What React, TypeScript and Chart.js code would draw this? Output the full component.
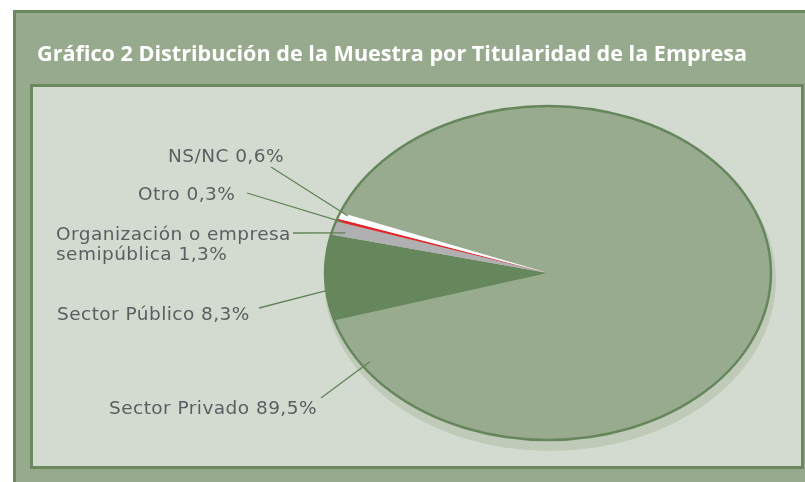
import React, { useEffect, useRef } from "react";
import { Chart, registerables } from "chart.js";

Chart.register(...registerables);

// ---- data ----
const title = "Gráfico 2 Distribución de la Muestra por Titularidad de la Empresa";
const categories = [
  "Sector Privado",
  "Sector Público",
  "Organización o empresa semipública",
  "Otro",
  "NS/NC",
];
const values = [89.5, 8.3, 1.3, 0.3, 0.6];
const valueLabels = ["89,5%", "8,3%", "1,3%", "0,3%", "0,6%"];
const labelLines = [
  ["Sector Privado 89,5%"],
  ["Sector Público 8,3%"],
  ["Organización o empresa", "semipública 1,3%"],
  ["Otro 0,3%"],
  ["NS/NC 0,6%"],
];
const sliceColors = ["#98ab8e", "#66875c", "#b0b0b2", "#e8242b", "#ffffff"];

// ---- layout / style ----
const W = 805;
const H = 482;
const STRETCH = 1.335; // horizontal stretch of the pie (ellipse)
const labelLayout = [
  { x: 109, y: 414, lx: 321, ly: 398, f: 0.947, rf: 0.96 },
  { x: 57, y: 320, lx: 259, ly: 308, f: 0.35, rf: 1.0 },
  { x: 56, y: 240, lx: 293, ly: 233, f: 0.32, rf: 0.94 },
  { x: 138, y: 200, lx: 247, ly: 193, f: 0.3, rf: 0.97 },
  { x: 168, y: 162, lx: 271, ly: 167, f: 0.8, rf: 0.96 },
];

const framePlugin = {
  id: "frame",
  beforeDraw(chart: any) {
    const ctx = chart.ctx as CanvasRenderingContext2D;
    ctx.save();
    // outer frame
    ctx.fillStyle = "#98aa8e";
    ctx.fillRect(13, 10, W, H);
    ctx.strokeStyle = "#6a8a5e";
    ctx.lineWidth = 3;
    ctx.strokeRect(14.5, 11.5, W + 10, H + 10);
    // inner panel
    ctx.fillStyle = "#d3dbd1";
    ctx.fillRect(31, 85, 772, 383);
    ctx.strokeRect(31.5, 85.5, 771, 382);
    // title
    ctx.fillStyle = "#ffffff";
    ctx.font = "bold 21.6px 'Open Sans'";
    ctx.textBaseline = "alphabetic";
    ctx.textAlign = "left";
    ctx.fillText(title, 37, 61);
    ctx.restore();
  },
};

const ellipsePlugin = {
  id: "ellipse",
  beforeDatasetsDraw(chart: any) {
    const ctx = chart.ctx as CanvasRenderingContext2D;
    const arc = chart.getDatasetMeta(0).data[0] as any;
    if (!arc) return;
    const { x, y, outerRadius: R } = arc;
    // shadow
    ctx.save();
    ctx.fillStyle = "#bfcab8";
    ctx.beginPath();
    ctx.ellipse(x + 2, y + 7, R * STRETCH + 3, R + 4, 0, 0, Math.PI * 2);
    ctx.fill();
    ctx.restore();
    ctx.save();
    ctx.translate(x, y);
    ctx.scale(STRETCH, 1);
    ctx.translate(-x, -y);
  },
  afterDatasetsDraw(chart: any) {
    const ctx = chart.ctx as CanvasRenderingContext2D;
    ctx.restore();
    const arcs = chart.getDatasetMeta(0).data as any[];
    if (!arcs.length) return;
    const { x, y, outerRadius: R } = arcs[0];
    ctx.save();
    ctx.strokeStyle = "#66875c";
    ctx.lineWidth = 2.5;
    ctx.beginPath();
    ctx.ellipse(x, y, R * STRETCH, R, 0, 0, Math.PI * 2);
    ctx.stroke();

    // labels + leader lines
    ctx.font = "18.5px 'DejaVu Sans'";
    (ctx as any).letterSpacing = "0.45px";
    ctx.fillStyle = "#5b5e61";
    ctx.textAlign = "left";
    ctx.textBaseline = "alphabetic";
    arcs.forEach((a: any, i: number) => {
      const L = labelLayout[i];
      const ang = a.startAngle + L.f * (a.endAngle - a.startAngle);
      const px = x + Math.cos(ang) * R * L.rf * STRETCH;
      const py = y + Math.sin(ang) * R * L.rf;
      ctx.strokeStyle = "#628356";
      ctx.lineWidth = 1.3;
      ctx.beginPath();
      ctx.moveTo(L.lx, L.ly);
      ctx.lineTo(px, py);
      ctx.stroke();
      labelLines[i].forEach((line, j) => {
        ctx.fillText(line, L.x, L.y + j * 20);
      });
    });
    ctx.restore();
  },
};

export default function App() {
  const ref = useRef<HTMLCanvasElement | null>(null);
  useEffect(() => {
    if (!ref.current) return;
    const chart = new Chart(ref.current, {
      type: "pie",
      data: {
        labels: categories,
        datasets: [
          {
            data: values,
            backgroundColor: sliceColors,
            borderWidth: 0,
            hoverOffset: 0,
          } as any,
        ],
      },
      options: {
        animation: false,
        responsive: false,
        devicePixelRatio: 1,
        events: [],
        rotation: 291.25,
        layout: { padding: { left: 381, right: 90, top: 106, bottom: 42 } },
        plugins: {
          legend: { display: false },
          tooltip: { enabled: false },
          title: { display: false },
        },
      } as any,
      plugins: [framePlugin, ellipsePlugin],
    });
    return () => chart.destroy();
  }, []);
  return (
    <div style={{ position: "absolute", left: 0, top: 0, width: W, height: H }}>
      <canvas ref={ref} width={W} height={H} style={{ width: W, height: H, display: "block" }} />
    </div>
  );
}
